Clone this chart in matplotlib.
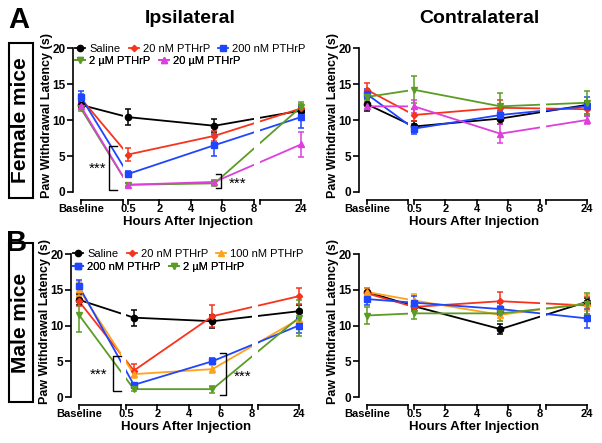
"""
PTHrP paw withdrawal latency, female (A) and male (B), ipsi/contralateral.
"""

import matplotlib
matplotlib.use("Agg")
import matplotlib.pyplot as plt
from matplotlib.lines import Line2D
from matplotlib.patches import Rectangle

plt.rcParams['font.family'] = ['Liberation Sans', 'DejaVu Sans']

# x-axis: baseline segment | 0.5-8 h | 24 h  (GraphPad style broken axis)
tick_labels = ['Baseline', '0.5', '2', '4', '6', '8', '24']

# sampling points (hours after injection); baseline handled separately
hours_std = [0.0, 5.5, 24]
hours_male_ipsi = [0.5, 5.5, 24]

# Female, ipsilateral  (values: baseline, 0.5 h, 6 h, 24 h)
fi_saline = [12.1, 10.4, 9.2, 11.3]
fi_saline_err = [0.5, 1.1, 0.9, 0.5]
fi_20nm = [13.0, 5.2, 7.8, 11.6]
fi_20nm_err = [0.6, 0.9, 0.7, 0.6]
fi_200nm = [13.2, 2.5, 6.5, 10.4]
fi_200nm_err = [0.8, 0.4, 1.5, 1.5]
fi_2um = [11.6, 1.0, 1.2, 11.8]
fi_2um_err = [0.3, 0.2, 0.3, 0.7]
fi_20um = [11.9, 1.0, 1.4, 6.6]
fi_20um_err = [0.4, 0.3, 0.3, 1.8]

# Female, contralateral
fc_saline = [12.2, 9.1, 10.2, 12.1]
fc_saline_err = [0.9, 0.8, 0.7, 0.5]
fc_20nm = [14.2, 10.7, 11.7, 11.5]
fc_20nm_err = [1.0, 0.8, 1.1, 0.7]
fc_200nm = [13.6, 8.8, 10.7, 11.9]
fc_200nm_err = [0.7, 0.7, 0.5, 1.3]
fc_2um = [13.2, 14.2, 11.9, 12.4]
fc_2um_err = [0.5, 1.9, 1.9, 1.6]
fc_20um = [11.9, 11.9, 8.1, 10.0]
fc_20um_err = [0.4, 0.9, 1.3, 0.5]

# Male, ipsilateral
mi_saline = [13.6, 11.1, 10.6, 12.0]
mi_saline_err = [0.8, 1.1, 0.9, 0.9]
mi_20nm = [13.4, 3.7, 11.3, 14.1]
mi_20nm_err = [0.7, 0.9, 1.5, 1.1]
mi_100nm = [15.1, 3.2, 3.9, 10.9]
mi_100nm_err = [1.0, 0.6, 0.6, 1.0]
mi_200nm = [15.5, 1.7, 5.0, 10.0]
mi_200nm_err = [0.9, 0.3, 0.4, 1.1]
mi_2um = [11.5, 1.1, 1.1, 11.1]
mi_2um_err = [2.4, 0.3, 0.5, 2.5]

# Male, contralateral
mc_saline = [14.7, 12.7, 9.5, 13.3]
mc_saline_err = [0.6, 0.7, 0.7, 0.6]
mc_20nm = [14.5, 12.6, 13.4, 12.8]
mc_20nm_err = [0.7, 0.6, 1.3, 1.2]
mc_100nm = [14.7, 13.5, 11.5, 13.1]
mc_100nm_err = [0.6, 0.9, 0.9, 1.1]
mc_200nm = [13.7, 13.2, 12.3, 11.0]
mc_200nm_err = [0.8, 0.9, 0.8, 1.3]
mc_2um = [11.4, 11.7, 11.7, 13.0]
mc_2um_err = [1.2, 0.8, 1.0, 1.5]

# group styles: label, color, marker, size
STYLE = {
    'saline': ('Saline', '#000000', 'o', 4.5),
    '20nm': ('20 nM PTHrP', '#f8331c', 'D', 3.2),
    '100nm': ('100 nM PTHrP', '#ffa21c', '^', 4.5),
    '200nm': ('200 nM PTHrP', '#1f45ff', 's', 4.2),
    '2um': ('2 µM PTHrP', '#5c9c25', 'v', 4.5),
    '20um': ('20 µM PTHrP', '#de3fdc', '^', 4.5),
}

BASE_X = -3.0
GAPS = [(-0.35, 0.0), (8.0, 8.4)]


def xpos(h):
    # map hours onto the broken axis (24 h sits just past the second break)
    return 11.0 if h >= 24 else h


def draw_series(ax, key, vals, errs, hours):
    label, color, marker, ms = STYLE[key]
    xs = [BASE_X] + [xpos(h) for h in hours]
    ax.plot(xs, vals, color=color, lw=1.3, zorder=2)
    ax.errorbar(xs, vals, yerr=errs, fmt=marker, color=color, ms=ms,
                capsize=2.5, elinewidth=1.1, capthick=1.1, zorder=4)


def style_axes(ax):
    ax.set_xlim(-3.5, 11.2)
    ax.set_ylim(0, 20)
    for s in ['top', 'right', 'bottom']:
        ax.spines[s].set_visible(False)
    ax.spines['left'].set_linewidth(1.2)
    ax.set_yticks([0, 5, 10, 15, 20])
    ax.tick_params(axis='y', length=4, width=1.2, labelsize=8.5, pad=1.5)
    for t in ax.get_yticklabels():
        t.set_fontweight('bold')
    ax.set_xticks([])
    # white bands leave the gaps in lines at the axis breaks
    for a, b in GAPS:
        ax.axvspan(a, b, color='white', zorder=3, lw=0)
    tr = ax.get_xaxis_transform()
    y0, tl = -0.055, 0.03
    for a, b in [(BASE_X, -0.35), (0.0, 8.0), (8.4, 11.0)]:
        ax.plot([a, b], [y0, y0], color='k', lw=1.2, transform=tr, clip_on=False)
    for x in [BASE_X, -0.35, 0.0, 2, 4, 6, 8, 8.4, 11.0]:
        ax.plot([x, x], [y0, y0 - tl], color='k', lw=1.2, transform=tr, clip_on=False)
    for x, lab in zip([BASE_X, 0.0, 2, 4, 6, 8, 11.0], tick_labels):
        ax.text(x, -0.118, lab, transform=tr, ha='center', va='center',
                fontsize=8, fontweight='bold')
    ax.set_ylabel('Paw Withdrawal Latency (s)', fontsize=9, fontweight='bold')
    ax.yaxis.set_label_coords(-0.085, 0.53)
    ax.text(0.5, -0.21, 'Hours After Injection', transform=ax.transAxes,
            ha='center', va='center', fontsize=9.5, fontweight='bold')


def legend_row(ax, keys, y):
    handles = []
    for k in keys:
        label, color, marker, ms = STYLE[k]
        handles.append(Line2D([], [], color=color, lw=1.3, marker=marker, ms=ms, label=label))
    leg = ax.legend(handles=handles, loc='center left', bbox_to_anchor=(0.01, y),
                    ncol=len(keys), frameon=False, fontsize=8, handlelength=0.9,
                    handletextpad=0.35, columnspacing=0.75, borderpad=0, borderaxespad=0)
    leg.set_zorder(6)
    ax.add_artist(leg)


def bracket(ax, x, y_lo, y_hi, arm, star_x, star_y):
    ax.plot([x + arm, x, x, x + arm], [y_hi, y_hi, y_lo, y_lo], color='k', lw=1.0, zorder=5)
    ax.text(star_x, star_y, '***', ha='center', va='center', fontsize=11, zorder=5)


fig = plt.figure(figsize=(6.02, 4.43), dpi=100)
ax_fi = fig.add_axes([0.1213, 0.5666, 0.3837, 0.325])
ax_fc = fig.add_axes([0.5963, 0.5666, 0.3837, 0.325])
ax_mi = fig.add_axes([0.118, 0.1038, 0.3837, 0.3228])
ax_mc = fig.add_axes([0.5963, 0.1038, 0.3837, 0.3228])

for ax in [ax_fi, ax_fc, ax_mi, ax_mc]:
    style_axes(ax)

# Female ipsilateral
draw_series(ax_fi, 'saline', fi_saline, fi_saline_err, hours_std)
draw_series(ax_fi, '20nm', fi_20nm, fi_20nm_err, hours_std)
draw_series(ax_fi, '200nm', fi_200nm, fi_200nm_err, hours_std)
draw_series(ax_fi, '2um', fi_2um, fi_2um_err, hours_std)
draw_series(ax_fi, '20um', fi_20um, fi_20um_err, hours_std)
legend_row(ax_fi, ['saline', '20nm', '200nm'], 0.993)
legend_row(ax_fi, ['2um', '20um'], 0.91)
bracket(ax_fi, -1.2, 0.25, 6.4, 0.5, -1.95, 3.2)
bracket(ax_fi, 5.93, 0.6, 2.5, -0.3, 6.95, 1.2)

# Female contralateral
draw_series(ax_fc, 'saline', fc_saline, fc_saline_err, hours_std)
draw_series(ax_fc, '20nm', fc_20nm, fc_20nm_err, hours_std)
draw_series(ax_fc, '200nm', fc_200nm, fc_200nm_err, hours_std)
draw_series(ax_fc, '2um', fc_2um, fc_2um_err, hours_std)
draw_series(ax_fc, '20um', fc_20um, fc_20um_err, hours_std)

# Male ipsilateral
draw_series(ax_mi, 'saline', mi_saline, mi_saline_err, hours_male_ipsi)
draw_series(ax_mi, '20nm', mi_20nm, mi_20nm_err, hours_male_ipsi)
draw_series(ax_mi, '100nm', mi_100nm, mi_100nm_err, hours_male_ipsi)
draw_series(ax_mi, '200nm', mi_200nm, mi_200nm_err, hours_male_ipsi)
draw_series(ax_mi, '2um', mi_2um, mi_2um_err, hours_male_ipsi)
legend_row(ax_mi, ['saline', '20nm', '100nm'], 1.0)
legend_row(ax_mi, ['200nm', '2um'], 0.91)
bracket(ax_mi, -0.83, 0.9, 5.7, 0.5, -1.72, 3.1)
bracket(ax_mi, 6.37, 0.3, 6.1, -0.38, 7.4, 2.8)

# Male contralateral
draw_series(ax_mc, 'saline', mc_saline, mc_saline_err, hours_std)
draw_series(ax_mc, '20nm', mc_20nm, mc_20nm_err, hours_std)
draw_series(ax_mc, '100nm', mc_100nm, mc_100nm_err, hours_std)
draw_series(ax_mc, '200nm', mc_200nm, mc_200nm_err, hours_std)
draw_series(ax_mc, '2um', mc_2um, mc_2um_err, hours_std)

# titles, panel letters, sex boxes
fig.text(0.316, 0.958, 'Ipsilateral', ha='center', va='center', fontsize=14, fontweight='bold')
fig.text(0.797, 0.958, 'Contralateral', ha='center', va='center', fontsize=14, fontweight='bold')
fig.text(0.013, 0.955, 'A', ha='left', va='center', fontsize=21, fontweight='bold')
fig.text(0.010, 0.451, 'B', ha='left', va='center', fontsize=21, fontweight='bold')

W, H = 602.0, 443.0
for top, bot, txt in [(43, 198, 'Female mice'), (243, 402, 'Male mice')]:
    fig.patches.append(Rectangle((9 / W, 1 - bot / H), 24 / W, (bot - top) / H,
                                 transform=fig.transFigure, fc='white', ec='black', lw=1.5))
    fig.text(21 / W, 1 - (top + bot) / 2 / H, txt, rotation=90, ha='center', va='center',
             fontsize=15, fontweight='bold')

fig.savefig('out.png', dpi=100)
